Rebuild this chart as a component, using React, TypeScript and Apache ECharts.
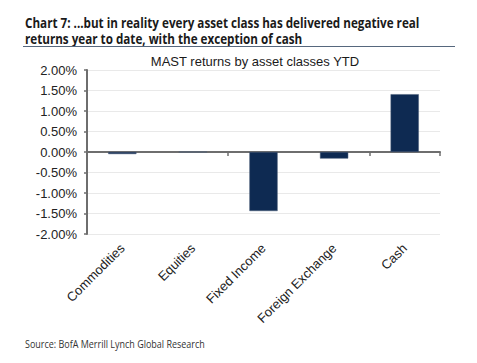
import React, { useEffect, useRef } from "react";
import * as echarts from "echarts";

const categories = ["Commodities", "Equities", "Fixed Income", "Foreign Exchange", "Cash"];
const returnsPct = [-0.05, 0.0, -1.44, -0.16, 1.41];
const titleLines = [
  "Chart 7: ...but in reality every asset class has delivered negative real",
  "returns year to date, with the exception of cash",
];
const chartTitle = "MAST returns by asset classes YTD";
const sourceText = "Source: BofA Merrill Lynch Global Research";

function measure(text: string, font: string): number {
  const c = document.createElement("canvas");
  const ctx = c.getContext("2d");
  if (!ctx) return text.length * 7;
  ctx.font = font;
  return ctx.measureText(text).width;
}

export default function App() {
  const ref = useRef<HTMLDivElement>(null);
  useEffect(() => {
    if (!ref.current) return;
    const chart = echarts.init(ref.current, undefined, { renderer: "svg" });
    const titleFont = "bold 14px 'Open Sans'";
    const titleScale = 395 / measure(titleLines[0], titleFont);
    const srcFont = "11px 'Open Sans'";
    const srcScale = 180 / measure(sourceText, srcFont);
    const axisGray = "#6e6e6e";
    chart.setOption({
      animation: false,
      backgroundColor: "#ffffff",
      graphic: [
        ...titleLines.map((t, i) => ({
          type: "text",
          x: 25,
          y: 23 + i * 15.5,
          scaleX: titleScale,
          style: {
            text: t,
            font: titleFont,
            fill: "#1a1a1a",
            textVerticalAlign: "middle",
            verticalAlign: "middle",
          },
        })),
        {
          type: "line",
          shape: { x1: 23, y1: 46.5, x2: 455, y2: 46.5 },
          style: { stroke: "#56677d", lineWidth: 1 },
        },
        {
          type: "text",
          x: 25,
          y: 344,
          scaleX: srcScale,
          style: {
            text: sourceText,
            font: srcFont,
            fill: "#333333",
            textVerticalAlign: "middle",
            verticalAlign: "middle",
          },
        },
      ],
      title: {
        text: chartTitle,
        left: 250,
        top: 50,
        textAlign: "center",
        textStyle: {
          fontFamily: "'Liberation Sans', Arial",
          fontSize: 13,
          fontWeight: "normal",
          color: "#1a1a1a",
        },
      },
      grid: { left: 87, right: 37, top: 70, bottom: 129, containLabel: false },
      xAxis: [
        {
          type: "category",
          data: categories,
          axisLine: { onZero: true, lineStyle: { color: axisGray, width: 2 } },
          axisTick: { show: true, length: 4, lineStyle: { color: axisGray, width: 1.5 } },
          axisLabel: { show: false },
          splitLine: { show: false },
        },
        {
          type: "category",
          data: categories,
          position: "bottom",
          axisLine: { show: false, onZero: false },
          axisTick: { show: false },
          axisLabel: {
            rotate: 45,
            margin: 12,
            interval: 0,
            fontFamily: "'Liberation Sans', Arial",
            fontSize: 13,
            color: "#222222",
          },
        },
      ],
      yAxis: {
        type: "value",
        min: -2,
        max: 2,
        interval: 0.5,
        axisLine: { show: true, lineStyle: { color: axisGray, width: 2 } },
        axisTick: { show: true, inside: false, length: 3, lineStyle: { color: axisGray, width: 1.5 } },
        axisLabel: {
          formatter: (v: number) => v.toFixed(2) + "%",
          margin: 10,
          fontFamily: "'Liberation Sans', Arial",
          fontSize: 13,
          color: "#222222",
        },
        splitLine: { show: true, lineStyle: { color: "#e9e9e9", width: 1 } },
      },
      series: [
        {
          type: "bar",
          xAxisIndex: 0,
          data: returnsPct,
          barWidth: "40%",
          itemStyle: { color: "#0e2a52", borderColor: "#4a5c78", borderWidth: 0.5 },
        },
      ],
    });
    return () => chart.dispose();
  }, []);
  return (
    <div
      ref={ref}
      style={{ position: "fixed", left: 0, top: 0, width: 477, height: 363, background: "#fff" }}
    />
  );
}
